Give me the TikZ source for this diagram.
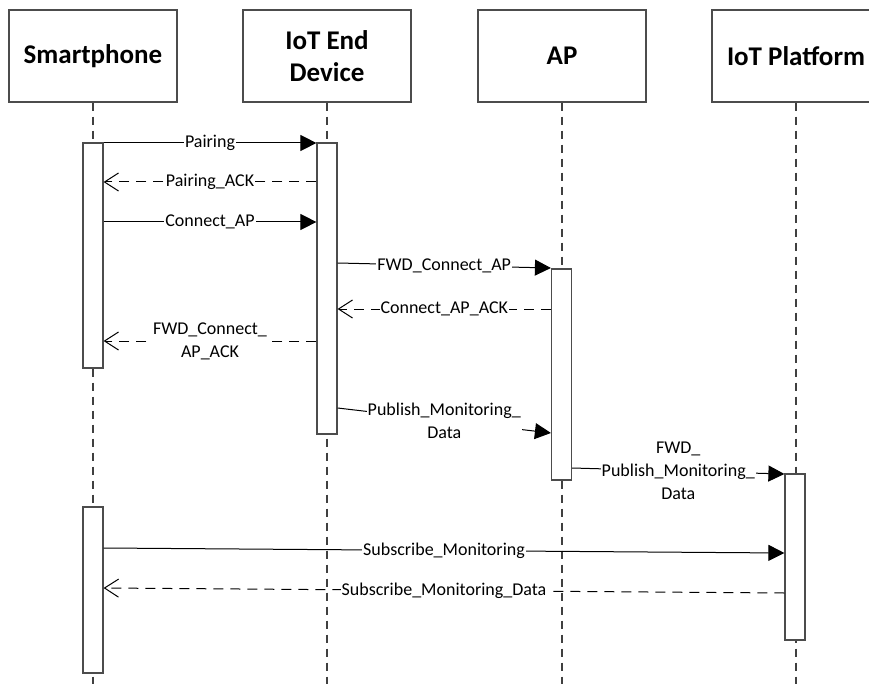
\documentclass[tikz,border=0pt]{standalone}
\usepackage{fontspec}
\setmainfont{Carlito}
\usetikzlibrary{positioning,calc,arrows.meta}

\begin{document}
\begin{tikzpicture}[x=1pt,y=-1pt,
  head/.style={draw=black!70,line width=1.2pt,minimum width=168pt,minimum height=92pt,
    inner sep=0pt,align=center,font=\fontsize{27}{32}\selectfont\bfseries},
  bar/.style={draw=black!70,line width=1.2pt,fill=white,minimum width=20pt,inner sep=0pt},
  life/.style={black!75,line width=1.2pt,dash pattern=on 8pt off 6pt},
  msg/.style={line width=1pt,-{Triangle[length=16pt,width=16pt]}},
  reply/.style={line width=1pt,dash pattern=on 10pt off 7pt,
    -{Straight Barb[length=14pt,width=18pt]}},
  lbl/.style={fill=white,inner sep=1pt,align=center,
    font=\fontsize{18}{23}\selectfont}]
\useasboundingbox (0,0) rectangle (869,684);
% Heads of the lifelines
\node[head] (sp) at (93,56) {Smartphone};
\node[head] (ed) at (327,56) {IoT End\\Device};
\node[head] (ap) at (562,56) {AP};
\node[head] (pf) at (796,56) {IoT Platform};
% Lifelines
\foreach \n in {sp,ed,ap,pf}
  \draw[life] (\n.south) -- (\n.south |- 0,684);
% Activation bars
\node[bar,minimum height=225pt] (sp1) at (93,255.5) {};
\node[bar,minimum height=291pt] (ed1) at (327,288.5) {};
\node[bar,minimum height=211pt] (ap1) at (561.5,374.5) {};
\node[bar,minimum height=166pt] (pf1) at (795,557) {};
\node[bar,minimum height=166pt] (sp2) at (93,590) {};
% Pairing and connection to the AP
\draw[msg] (sp1.east |- 0,143) -- node[lbl] {Pairing} (ed1.west |- 0,143);
\draw[reply] (ed1.west |- 0,182) -- node[lbl] {Pairing\_ACK} (sp1.east |- 0,182);
\draw[msg] (sp1.east |- 0,222) -- node[lbl] {Connect\_AP} (ed1.west |- 0,222);
\draw[msg] (ed1.east |- 0,263) -- node[lbl] {FWD\_Connect\_AP} (ap1.west |- 0,268);
\draw[reply] (ap1.west |- 0,309) -- node[lbl] {Connect\_AP\_ACK} (ed1.east |- 0,309);
\draw[reply] (ed1.west |- 0,341) -- node[lbl] {FWD\_Connect\_\\AP\_ACK} (sp1.east |- 0,341);
% Monitoring data
\draw[msg] (ed1.east |- 0,408) -- node[lbl] {Publish\_Monitoring\_\\Data} (ap1.west |- 0,433);
\draw[msg] (ap1.east |- 0,468) -- node[lbl] {FWD\_\\Publish\_Monitoring\_\\Data} (pf1.west |- 0,474);
% Subscription
\draw[msg] (sp2.east |- 0,548) -- node[lbl] {Subscribe\_Monitoring} (pf1.west |- 0,553);
\draw[reply] (pf1.west |- 0,593) -- node[lbl] {Subscribe\_Monitoring\_Data} (sp2.east |- 0,588);
\end{tikzpicture}
\end{document}
